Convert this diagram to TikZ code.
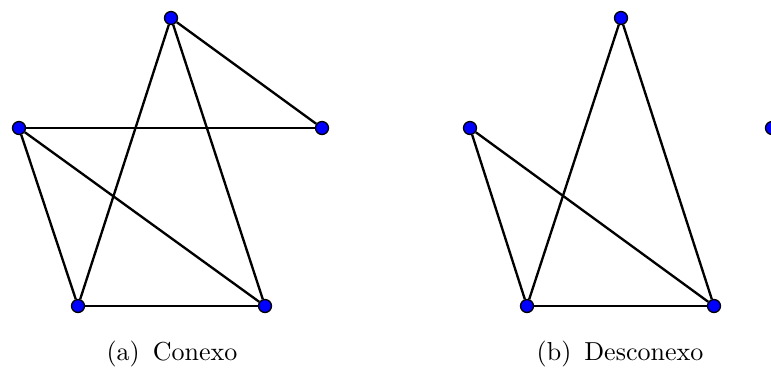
\documentclass[tikz,border=0pt]{standalone}
\usetikzlibrary{positioning}

\begin{document}
\begin{tikzpicture}[x=0.3846pt, y=-0.3846pt,
    vertex/.style={circle, draw, fill=blue, inner sep=0pt, minimum size=5pt, line width=0.5pt},
    edge/.style={line width=0.9pt}]
    \useasboundingbox (0,0) rectangle (771,372);
    % (a) connected graph
    \node[vertex] (a1) at (171,18) {};
    \node[vertex] (a2) at (322,128) {};
    \node[vertex] (a3) at (19,128) {};
    \node[vertex] (a4) at (78,306) {};
    \node[vertex] (a5) at (265,306) {};
    \draw[edge] (a1) -- (a2); \draw[edge] (a3) -- (a2);
    \draw[edge] (a1) -- (a4); \draw[edge] (a1) -- (a5);
    \draw[edge] (a3) -- (a4); \draw[edge] (a3) -- (a5);
    \draw[edge] (a4) -- (a5);
    \node[anchor=base] (capa) at (172,360) {(a)\enspace Conexo};
    % (b) disconnected graph
    \node[vertex] (b1) at (621,18) {};
    \node[vertex] (b2) at (772,128) {};
    \node[vertex] (b3) at (470,128) {};
    \node[vertex] (b4) at (527,306) {};
    \node[vertex] (b5) at (714,306) {};
    \draw[edge] (b1) -- (b4); \draw[edge] (b1) -- (b5);
    \draw[edge] (b3) -- (b4); \draw[edge] (b3) -- (b5);
    \draw[edge] (b4) -- (b5);
    \node[anchor=base] (capb) at (620,360) {(b)\enspace Desconexo};
\end{tikzpicture}
\end{document}
